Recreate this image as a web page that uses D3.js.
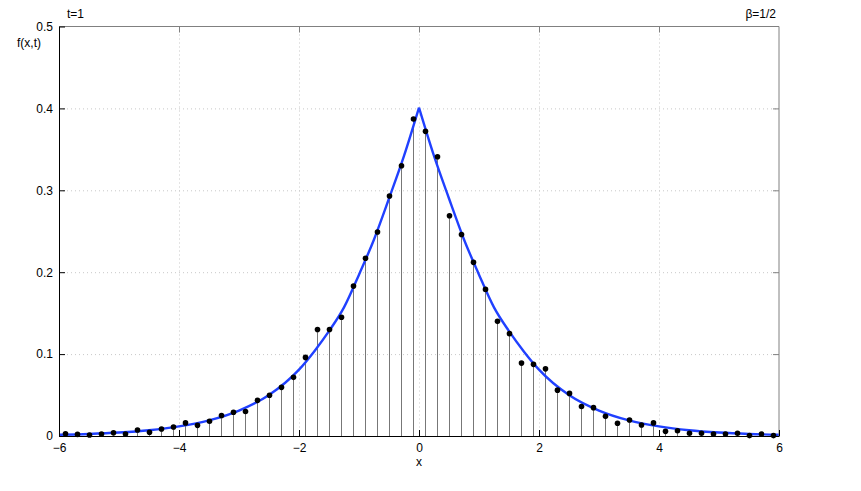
<!DOCTYPE html>
<html>
<head>
<meta charset="utf-8">
<script src="https://cdn.jsdelivr.net/npm/d3@7"></script>
<style>
  body { margin: 0; background: #fff; }
  svg text { font-family: "Liberation Sans", Arial, sans-serif; font-size: 12px; fill: #000; }
</style>
</head>
<body>
<div id="chart"></div>
<script>
// sample points (stems), centres of 0.2-wide bins
var stemX = [-5.9,-5.7,-5.5,-5.3,-5.1,-4.9,-4.7,-4.5,-4.3,-4.1,
             -3.9,-3.7,-3.5,-3.3,-3.1,-2.9,-2.7,-2.5,-2.3,-2.1,
             -1.9,-1.7,-1.5,-1.3,-1.1,-0.9,-0.7,-0.5,-0.3,-0.1,
              0.1, 0.3, 0.5, 0.7, 0.9, 1.1, 1.3, 1.5, 1.7, 1.9,
              2.1, 2.3, 2.5, 2.7, 2.9, 3.1, 3.3, 3.5, 3.7, 3.9,
              4.1, 4.3, 4.5, 4.7, 4.9, 5.1, 5.3, 5.5, 5.7, 5.9];
var stemY = [0.0028,0.0020,0.0012,0.0024,0.0040,0.0024,0.0073,0.0045,0.0085,0.0110,
             0.0160,0.0130,0.0180,0.0250,0.0290,0.0300,0.0435,0.0497,0.0594,0.0716,
             0.0960,0.1300,0.1300,0.1450,0.1830,0.2170,0.2490,0.2930,0.3300,0.3870,
             0.3720,0.3410,0.2690,0.2460,0.2120,0.1790,0.1400,0.1250,0.0890,0.0875,
             0.0820,0.0560,0.0520,0.0360,0.0346,0.0240,0.0155,0.0195,0.0134,0.0160,
             0.0057,0.0065,0.0033,0.0033,0.0025,0.0025,0.0033,0.0005,0.0025,0.0005];

// blue curve (left branch and right branch meet at the cusp)
var curveX = [-6,-5.5,-5,-4.5,-4,-3.5,-3,-2.5,-2,-1.75,-1.5,-1.25,-1,-0.75,-0.5,-0.25,0,
              0.25,0.5,0.75,1,1.25,1.5,1.75,2,2.5,3,3.5,4,4.5,5,5.5,6];
var curveY = [0.0015,0.0025,0.0042,0.0070,0.0117,0.0190,0.0310,0.0500,0.0810,0.1030,0.1280,0.1570,0.1970,0.2400,0.2900,0.3420,0.4010,
              0.3420,0.2900,0.2400,0.1970,0.1570,0.1280,0.1030,0.0810,0.0500,0.0310,0.0190,0.0117,0.0070,0.0042,0.0025,0.0015];

var xTicks = [-6,-4,-2,0,2,4,6];
var yTicks = [0,0.1,0.2,0.3,0.4,0.5];

var margin = { left: 59, right: 82, top: 26.5, bottom: 55 };
var width = 861 - margin.left - margin.right;
var height = 491 - margin.top - margin.bottom;

var svg = d3.select("#chart").append("svg")
    .attr("width", 861)
    .attr("height", 491);

var g = svg.append("g")
    .attr("transform", "translate(" + margin.left + "," + margin.top + ")");

var xScale = d3.scaleLinear().domain([-6, 6]).range([0, width]);
var yScale = d3.scaleLinear().domain([0, 0.5]).range([height, 0]);

// grid
g.selectAll(".vgrid")
    .data(xTicks.slice(1, -1)).enter()
    .append("line")
    .attr("x1", function(d){ return xScale(d) + 0.5 })
    .attr("x2", function(d){ return xScale(d) + 0.5 })
    .attr("y1", 0).attr("y2", height)
    .attr("stroke", "#c8c8c8")
    .attr("stroke-dasharray", "1,3");

g.selectAll(".hgrid")
    .data(yTicks.slice(1, -1)).enter()
    .append("line")
    .attr("y1", function(d){ return yScale(d) + 0.5 })
    .attr("y2", function(d){ return yScale(d) + 0.5 })
    .attr("x1", 0).attr("x2", width)
    .attr("stroke", "#c8c8c8")
    .attr("stroke-dasharray", "1,3");

// stems
var pts = stemX.map(function(x, i){ return { x: x, y: stemY[i] } });

g.selectAll(".stem")
    .data(pts).enter()
    .append("line")
    .attr("class", "stem")
    .attr("x1", function(d){ return Math.round(xScale(d.x)) + 0.5 })
    .attr("x2", function(d){ return Math.round(xScale(d.x)) + 0.5 })
    .attr("y1", yScale(0))
    .attr("y2", function(d){ return yScale(d.y) })
    .attr("stroke", "#777")
    .attr("stroke-width", 1);

// curve: two monotone branches so the peak stays a cusp
var cpts = curveX.map(function(x, i){ return { x: x, y: curveY[i] } });
var line = d3.line()
    .x(function(d){ return xScale(d.x) })
    .y(function(d){ return yScale(d.y) })
    .curve(d3.curveMonotoneX);

[cpts.filter(function(d){ return d.x <= 0 }), cpts.filter(function(d){ return d.x >= 0 })]
  .forEach(function(branch){
    g.append("path")
        .datum(branch)
        .attr("d", line)
        .attr("fill", "none")
        .attr("stroke", "#2040ff")
        .attr("stroke-width", 2.4);
  });

// dots
g.selectAll(".dot")
    .data(pts).enter()
    .append("circle")
    .attr("class", "dot")
    .attr("cx", function(d){ return Math.round(xScale(d.x)) + 0.5 })
    .attr("cy", function(d){ return yScale(d.y) })
    .attr("r", 2.8)
    .attr("fill", "#000");

// box: top/right grey, left/bottom black
g.append("line").attr("x1", 0).attr("x2", width).attr("y1", 0).attr("y2", 0)
    .attr("stroke", "#808080");
g.append("line").attr("x1", width).attr("x2", width).attr("y1", 0).attr("y2", height)
    .attr("stroke", "#808080");

// axes with inward ticks
var xAxis = d3.axisBottom(xScale).tickValues(xTicks).tickSizeInner(-6).tickSizeOuter(0).tickPadding(10)
    .tickFormat(function(d){ return d < 0 ? "\u2212" + Math.abs(d) : d });
var yAxis = d3.axisLeft(yScale).tickValues(yTicks).tickSizeInner(-6).tickSizeOuter(0).tickPadding(10)
    .tickFormat(function(d){ return d === 0 ? "0" : d3.format(".1f")(d) });

var gx = g.append("g").attr("transform", "translate(0," + height + ")").call(xAxis);
var gy = g.append("g").call(yAxis);
[gx, gy].forEach(function(a){
    a.select(".domain").attr("stroke", "#000");
    a.selectAll(".tick line").attr("stroke", "#000");
    a.selectAll("text").style("font-size", "12px")
        .style("font-family", "Liberation Sans, Arial, sans-serif");
});
gx.selectAll("text").attr("dy", "0.5em");
gy.selectAll("text").attr("dx", "4px");

// top and right ticks
g.selectAll(".ttick").data(xTicks.slice(1, -1)).enter().append("line")
    .attr("x1", function(d){ return xScale(d) + 0.5 }).attr("x2", function(d){ return xScale(d) + 0.5 })
    .attr("y1", 0).attr("y2", 6).attr("stroke", "#808080");
g.selectAll(".rtick").data(yTicks.slice(1, -1)).enter().append("line")
    .attr("y1", function(d){ return yScale(d) + 0.5 }).attr("y2", function(d){ return yScale(d) + 0.5 })
    .attr("x1", width).attr("x2", width - 6).attr("stroke", "#808080");

// labels
g.append("text").attr("x", xScale(0)).attr("y", height + 30)
    .style("text-anchor", "middle").text("x");
g.append("text").attr("x", -42).attr("y", 20)
    .text("f(x,t)");
g.append("text").attr("x", 8).attr("y", -9).text("t=1");
g.append("text").attr("x", width - 3).attr("y", -9)
    .style("text-anchor", "end").text("\u03b2=1/2");
</script>
</body>
</html>
